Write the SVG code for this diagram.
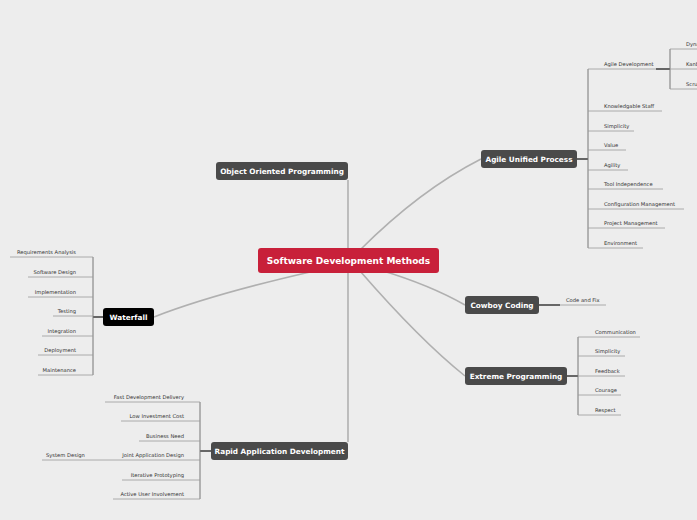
<svg xmlns="http://www.w3.org/2000/svg" width="697" height="520" viewBox="0 0 697 520">
<style>
.t{font-family:"DejaVu Sans",Verdana,sans-serif;font-size:5.2px;fill:#333}
.r{text-anchor:end}
.n{font-family:"DejaVu Sans",Verdana,sans-serif;font-size:7.3px;font-weight:bold;fill:#fff;text-anchor:middle}
.u{stroke:#999;stroke-width:0.8;fill:none}
.s{stroke:#777;stroke-width:1;fill:none}
.m{stroke:#444;stroke-width:1.6;fill:none}
.c{stroke:#b0b0b0;stroke-width:1.6;fill:none}
</style>
<rect width="697" height="520" fill="#ededed"/>
<g id="connectors">
<path class="c" d="M348,250 L348,180"/>
<path class="c" d="M348,271 L348,442"/>
<path class="c" d="M360,250 Q420,190 481,159"/>
<path class="c" d="M380,270 Q430,285 465,305"/>
<path class="c" d="M360,271 Q420,340 465,376"/>
<path class="c" d="M310,272 Q210,295 154,317"/>
<path class="m" d="M577,159 H588"/><path class="s" d="M588,69 V248"/>
<path class="m" d="M656,69 H670"/><path class="s" d="M670,49 V89"/>
<path class="m" d="M539,305 H560"/>
<path class="m" d="M567,376 H578"/><path class="s" d="M578,337 V415"/>
<path class="m" d="M93,317 H103"/><path class="s" d="M93,257 V375"/>
<path class="m" d="M200,451 H211"/><path class="s" d="M200,402 V499"/>
</g>
<g id="center"><rect x="258" y="248" width="181" height="25" rx="3" fill="#c8203a"/><text class="n" x="348.5" y="264" style="font-size:9px">Software Development Methods</text></g>
<g id="oop"><rect x="216" y="162" width="132" height="18" rx="3" fill="#4a4a4a"/><text class="n" x="282" y="173.5">Object Oriented Programming</text></g>
<g id="aup"><rect x="481" y="150" width="96" height="18" rx="3" fill="#4a4a4a"/><text class="n" x="529" y="161.5">Agile Unified Process</text>
<path class="u" d="M588,69 H656 M670,49 H697 M670,69 H697 M670,89 H697 M588,111 H662 M588,131 H634 M588,150 H626 M588,170 H628 M588,189 H663 M588,209 H684 M588,228 H665 M588,248 H643"/>
<text class="t" x="604" y="66">Agile Development</text>
<text class="t" x="686" y="46">Dynamic</text><text class="t" x="686" y="66">Kanban</text><text class="t" x="686" y="86">Scrum</text>
<text class="t" x="604" y="108">Knowledgable Staff</text><text class="t" x="604" y="128">Simplicity</text><text class="t" x="604" y="147">Value</text><text class="t" x="604" y="167">Agility</text><text class="t" x="604" y="186">Tool Independence</text><text class="t" x="604" y="206">Configuration Management</text><text class="t" x="604" y="225">Project Management</text><text class="t" x="604" y="245">Environment</text></g>
<g id="cowboy"><rect x="465" y="296" width="74" height="18" rx="3" fill="#4a4a4a"/><text class="n" x="502" y="307.5">Cowboy Coding</text>
<path class="u" d="M560,305 H606"/><text class="t" x="566" y="302">Code and Fix</text></g>
<g id="xp"><rect x="465" y="367" width="102" height="18" rx="3" fill="#4a4a4a"/><text class="n" x="516" y="378.5">Extreme Programming</text>
<path class="u" d="M578,337 H640 M578,356 H625 M578,376 H625 M578,395 H621 M578,415 H621"/>
<text class="t" x="595" y="334">Communication</text><text class="t" x="595" y="353">Simplicity</text><text class="t" x="595" y="373">Feedback</text><text class="t" x="595" y="392">Courage</text><text class="t" x="595" y="412">Respect</text></g>
<g id="waterfall"><rect x="103" y="308" width="51" height="18" rx="3" fill="#000"/><text class="n" x="128.5" y="319.5">Waterfall</text>
<path class="u" d="M10,257 H93 M28,277 H93 M28,297 H93 M53,316 H93 M42,336 H93 M38,355 H93 M38,375 H93"/>
<text class="t r" x="76" y="254">Requirements Analysis</text><text class="t r" x="76" y="274">Software Design</text><text class="t r" x="76" y="294">Implementation</text><text class="t r" x="76" y="313">Testing</text><text class="t r" x="76" y="333">Integration</text><text class="t r" x="76" y="352">Deployment</text><text class="t r" x="76" y="372">Maintenance</text></g>
<g id="rad"><rect x="211" y="442" width="137" height="18" rx="3" fill="#4a4a4a"/><text class="n" x="279.5" y="453.5">Rapid Application Development</text>
<path class="u" d="M105,402 H200 M121,421 H200 M139,441 H200 M42,460 H200 M122,480 H200 M113,499 H200"/>
<text class="t r" x="184" y="399">Fast Development Delivery</text><text class="t r" x="184" y="418">Low Investment Cost</text><text class="t r" x="184" y="438">Business Need</text><text class="t r" x="184" y="457">Joint Application Design</text><text class="t r" x="184" y="477">Iterative Prototyping</text><text class="t r" x="184" y="496">Active User Involvement</text>
<text class="t" x="46" y="457">System Design</text></g>
</svg>
